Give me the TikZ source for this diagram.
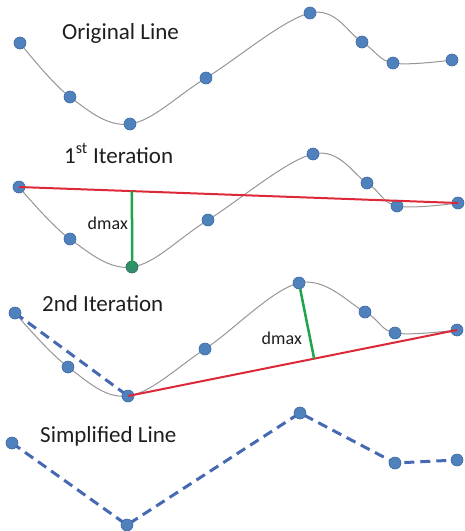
\documentclass[tikz,border=0pt]{standalone}
\usepackage{fontspec}
\setmainfont{Carlito}
\usetikzlibrary{calc}
\definecolor{dotblue}{RGB}{79,129,189}
\definecolor{dotedge}{RGB}{60,105,165}
\definecolor{dashblue}{RGB}{70,105,180}
\definecolor{curvegray}{RGB}{150,150,150}
\definecolor{redline}{RGB}{220,40,55}
\definecolor{greenline}{RGB}{30,165,75}
\definecolor{tealdot}{RGB}{50,140,110}
\definecolor{textgray}{RGB}{30,30,30}
\tikzset{
  dot/.style={circle,fill=dotblue,draw=dotedge,line width=0.6pt,minimum size=12pt,inner sep=0pt},
  curve/.style={draw=curvegray,line width=1pt},
  chord/.style={draw=redline,line width=2pt},
  dist/.style={draw=greenline,line width=2.5pt},
  simp/.style={draw=dashblue,line width=3pt,dash pattern=on 10pt off 6pt},
  title/.style={anchor=base west,inner sep=0pt,text=textgray,font=\fontsize{23}{26}\selectfont},
  dlabel/.style={anchor=base east,inner sep=0pt,text=textgray,font=\fontsize{18}{21}\selectfont},
}
\begin{document}
\begin{tikzpicture}[x=1pt,y=-1pt]
\useasboundingbox (0,0) rectangle (465,531);

% ---------- Original line ----------
\foreach \n/\x/\y in {a/20/43,b/70/97,c/130/124,d/206/78,e/310/13,f/362/42,g/393/63,h/452/60}
  \coordinate (c1\n) at (\x,\y);
\draw[curve] plot[smooth,tension=0.6] coordinates {(c1a) (c1b) (c1c) (c1d) (c1e) (c1f) (c1g) (c1h)};
\foreach \n in {a,b,c,d,e,f,g,h} \node[dot] (d1\n) at (c1\n) {};
\node[title] (t1) at (62,39) {Original Line};

% ---------- 1st iteration ----------
\foreach \n/\x/\y in {a/19/187,b/70/239,c/132/267,d/208/220,e/313/154,f/367/183,g/397/206,h/458/203}
  \coordinate (c2\n) at (\x,\y);
\draw[curve] plot[smooth,tension=0.6] coordinates {(c2a) (c2b) (c2c) (c2d) (c2e) (c2f) (c2g) (c2h)};
\foreach \n in {a,b,d,e,f,g,h} \node[dot] (d2\n) at (c2\n) {};
\node[dot,fill=tealdot,draw=tealdot!80!black] (d2c) at (c2c) {};
% point of the chord straight above the farthest vertex
\coordinate (foot2) at ($(c2a)!0.2574!(c2h)$);
\draw[chord] (d2a.center) -- (d2h.center);
\draw[dist] (foot2) -- (d2c.center);
\node[title] (t2) at (64,163) {1\textsuperscript{st} Iteration};
\node[dlabel] (m2) at (128,229) {dmax};

% ---------- 2nd iteration ----------
\foreach \n/\x/\y in {a/15/313,b/68/367,c/128/396,d/205/349,e/299/283,f/365/312,g/395/333,h/457/330}
  \coordinate (c3\n) at (\x,\y);
\draw[curve] plot[smooth,tension=0.6] coordinates {(c3a) (c3b) (c3c) (c3d) (c3e) (c3f) (c3g) (c3h)};
\draw[simp] (c3a) -- (c3c);
\foreach \n in {a,b,c,d,e,f,g,h} \node[dot] (d3\n) at (c3\n) {};
\coordinate (foot3) at ($(c3c)!(c3e)!(c3h)$);
\draw[chord] (d3c.center) -- (d3h.center);
\draw[dist] (d3e) -- (foot3);
\node[title] (t3) at (42,311) {2nd Iteration};
\node[dlabel] (m3) at (302,344) {dmax};

% ---------- Simplified line ----------
\foreach \n/\x/\y in {a/12/443,b/127/525,c/300/413,d/395/463,e/457/460}
  \coordinate (c4\n) at (\x,\y);
\draw[simp] (c4a) -- (c4b) -- (c4c) -- (c4d) -- (c4e);
\foreach \n in {a,b,c,d,e} \node[dot] (d4\n) at (c4\n) {};
\node[title] (t4) at (40,442) {Simplified Line};
\end{tikzpicture}
\end{document}
